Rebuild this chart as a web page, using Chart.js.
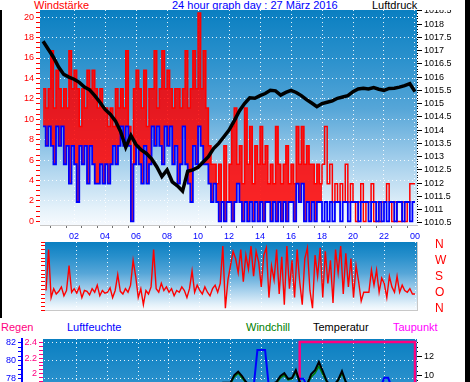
<!DOCTYPE html>
<html>
<head>
<meta charset="utf-8">
<script src="https://cdn.jsdelivr.net/npm/chart.js@4.4.0/dist/chart.umd.min.js"></script>
<style>
  html, body { margin: 0; padding: 0; background: #fff; width: 470px; height: 382px; overflow: hidden; position: relative; font-family: "Liberation Sans", Arial, sans-serif; }
  canvas { position: absolute; left: 0; }
  .head { position: absolute; left: 0; top: 0; width: 465px; height: 10px; overflow: hidden; background: #fff; z-index: 2; }
  .t { position: absolute; font-size: 11px; line-height: 11px; white-space: nowrap; }
  .edge { position: absolute; background: #000; z-index: 3; }
</style>
</head>
<body>
<div class="head">
  <span class="t" style="left:34px;top:0;color:#ff0000">Windstärke</span>
  <span class="t" style="left:172px;top:0;color:#0000ff">24 hour graph day : 27 März 2016</span>
  <span class="t" style="left:372px;top:0;color:#000">Luftdruck</span>
</div>
<span class="t" style="left:1px;top:322px;color:#ff0080">Regen</span>
<span class="t" style="left:67px;top:322px;color:#0000ff">Luftfeuchte</span>
<span class="t" style="left:246px;top:322px;color:#008000">Windchill</span>
<span class="t" style="left:313px;top:322px;color:#000">Temperatur</span>
<span class="t" style="left:393px;top:322px;color:#ff00ff">Taupunkt</span>
<div class="edge" style="left:465px;top:0;width:5px;height:382px"></div>
<div class="edge" style="left:0;top:10px;width:2px;height:308px"></div>

<canvas id="wind" width="465" height="242" style="top:0"></canvas>
<canvas id="dir" width="465" height="80" style="top:236px"></canvas>
<canvas id="temp" width="465" height="150" style="top:300px"></canvas>

<script>
// x labels under the top panel (every 2 hours, 24:00 shown as 00)
const hourLabels = ['02', '04', '06', '08', '10', '12', '14', '16', '18', '20', '22', '00'];
const compass = ['N', 'O', 'S', 'W', 'N'];

// wind in km/h, one value per 10 minutes from 00:00
const windGust = [
  13.0, 11.1, 13.0, 16.7, 11.1, 14.8,
  13.0, 11.1, 13.0, 11.1, 16.7, 13.0,
  14.8, 13.0, 9.3, 13.0, 11.1, 14.8,
  13.0, 14.8, 13.0, 11.1, 13.0, 11.1,
  11.1, 9.3, 11.1, 9.3, 13.0, 11.1,
  13.0, 11.1, 16.7, 9.3, 5.6, 13.0,
  14.8, 13.0, 11.1, 14.8, 9.3, 13.0,
  13.0, 16.7, 11.1, 13.0, 16.7, 13.0,
  14.8, 13.0, 11.1, 13.0, 13.0, 11.1,
  13.0, 16.7, 11.1, 13.0, 16.7, 13.0,
  20.4, 13.0, 16.7, 11.1, 7.4, 5.6,
  5.6, 3.7, 5.6, 1.9, 7.4, 1.9,
  5.6, 9.3, 11.1, 5.6, 7.4, 3.7,
  11.1, 5.6, 9.3, 3.7, 7.4, 5.6,
  9.3, 5.6, 7.4, 3.7, 5.6, 3.7,
  9.3, 5.6, 3.7, 5.6, 7.4, 3.7,
  5.6, 3.7, 9.3, 5.6, 9.3, 5.6,
  7.4, 5.6, 5.6, 3.7, 5.6, 3.7,
  5.6, 9.3, 3.7, 5.6, 1.9, 3.7,
  1.9, 3.7, 1.9, 5.6, 1.9, 3.7,
  1.9, 0, 1.9, 3.7, 0, 1.9,
  1.9, 3.7, 0, 1.9, 0, 1.9,
  1.9, 3.7, 1.9, 0, 1.9, 0,
  0, 1.9, 0, 1.9, 3.7, 3.7
];
const windMean = [
  9.3, 7.4, 9.3, 7.4, 5.6, 9.3,
  7.4, 9.3, 5.6, 7.4, 3.7, 7.4,
  5.6, 1.9, 7.4, 5.6, 7.4, 3.7,
  7.4, 5.6, 3.7, 3.7, 5.6, 3.7,
  5.6, 3.7, 5.6, 7.4, 5.6, 7.4,
  9.3, 7.4, 9.3, 7.4, 0, 5.6,
  7.4, 5.6, 3.7, 7.4, 3.7, 5.6,
  9.3, 7.4, 9.3, 7.4, 5.6, 9.3,
  7.4, 9.3, 5.6, 7.4, 3.7, 5.6,
  9.3, 5.6, 3.7, 1.9, 7.4, 5.6,
  9.3, 7.4, 5.6, 5.6, 3.7, 1.9,
  3.7, 1.9, 0, 1.9, 0, 1.9,
  1.9, 0, 1.9, 3.7, 1.9, 0,
  1.9, 0, 1.9, 0, 1.9, 0,
  1.9, 0, 1.9, 1.9, 0, 1.9,
  0, 1.9, 0, 1.9, 0, 1.9,
  1.9, 0, 3.7, 1.9, 3.7, 0,
  1.9, 0, 1.9, 0, 1.9, 1.9,
  0, 1.9, 0, 1.9, 0, 1.9,
  1.9, 0, 1.9, 1.9, 0, 1.9,
  1.9, 1.9, 0, 1.9, 1.9, 1.9,
  0, 1.9, 1.9, 0, 1.9, 0,
  1.9, 0, 1.9, 1.9, 0, 1.9,
  1.9, 0, 1.9, 1.9, 0, 1.9
];

// air pressure in hPa, every 20 minutes 00:00 .. 24:00
const pressure = [
  1017.35, 1017.05, 1016.75, 1016.38, 1016.1, 1016.0, 1015.92, 1015.8, 1015.62,
  1015.52, 1015.3, 1015.05, 1014.78, 1014.6, 1014.35, 1013.95, 1013.35, 1013.8,
  1013.45, 1013.25, 1013.12, 1012.92, 1012.62, 1012.25, 1012.5, 1012.05, 1011.9,
  1011.7, 1012.45, 1012.5, 1012.6, 1012.8, 1013.0, 1013.3, 1013.5, 1013.75,
  1014.0, 1014.35, 1014.72, 1015.0, 1015.22, 1015.2, 1015.3, 1015.38, 1015.5,
  1015.48, 1015.32, 1015.42, 1015.5, 1015.42, 1015.3, 1015.15, 1015.02, 1014.88,
  1015.0, 1015.05, 1015.1, 1015.2, 1015.25, 1015.3, 1015.45, 1015.55, 1015.58,
  1015.55, 1015.6, 1015.54, 1015.5, 1015.57, 1015.58, 1015.62, 1015.68, 1015.75,
  1015.45
];

// wind direction in degrees, one value per 10 minutes
const windDir = [
  100, 330, 60, 110, 80, 95,
  120, 70, 100, 240, 90, 110,
  85, 120, 60, 100, 95, 75,
  110, 90, 130, 70, 100, 85,
  90, 115, 60, 100, 190, 95,
  80, 110, 90, 130, 270, 180,
  60, 110, 20, 100, 80, 120,
  330, 110, 90, 140, 100, 120,
  90, 110, 70, 100, 90, 120,
  100, 60, 110, 210, 90, 130,
  100, 80, 120, 90, 70, 110,
  130, 90, 140, 350, 0, 160,
  240, 320, 280, 200, 330, 150,
  300, 220, 350, 180, 320, 260,
  120, 300, 340, 60, 240, 160,
  330, 80, 290, 20, 350, 110,
  270, 60, 330, 150, 20, 280,
  340, 100, 0, 300, 180, 340,
  60, 320, 140, 270, 30, 330,
  200, 350, 80, 310, 120, 280,
  60, 240, 150, 40, 90, 90,
  90, 215, 130, 215, 90, 170,
  140, 60, 180, 120, 90, 180,
  90, 130, 100, 90, 110, 80
];

// bottom panel, every 15 minutes 00:00 .. 24:00
const temperature = [
  6.2, 6.1, 6.0, 5.9, 5.8, 5.8, 5.7, 5.6, 5.5, 5.5, 5.4, 5.4,
  5.3, 5.3, 5.2, 5.2, 5.1, 5.1, 5.0, 5.0, 5.0, 5.1, 5.1, 5.2,
  5.4, 5.6, 5.8, 6.0, 6.3, 6.6, 6.9, 7.2, 7.5, 7.8, 8.0, 8.2,
  8.4, 8.6, 8.8, 8.9, 9.0, 9.1, 9.1, 9.2, 9.2, 9.2, 9.3, 9.3,
  9.3, 10.1, 10.45, 10.0, 9.4, 9.0, 8.9, 8.8, 8.9, 9.0, 9.1, 9.2,
  9.4, 10.0, 10.3, 9.7, 9.8, 10.6, 9.4, 9.0, 9.2, 10.2, 10.6, 11.45,
  10.5, 9.5, 9.0, 9.1, 9.6, 10.5, 9.4, 9.0, 8.8,
  8.6, 8.5, 8.4, 8.3, 8.2, 8.2, 8.1, 8.0, 8.0, 7.9, 7.9, 7.8,
  7.8, 7.7, 7.7, 7.6
];
const windchill = [
  4.6, 4.5, 4.3, 4.2, 4.1, 4.1, 4.0, 3.9, 3.8, 3.8, 3.7, 3.7,
  3.6, 3.6, 3.5, 3.5, 3.4, 3.4, 3.3, 3.3, 3.4, 3.5, 3.5, 3.6,
  3.9, 4.1, 4.4, 4.7, 5.0, 5.4, 5.8, 6.2, 6.6, 7.0, 7.3, 7.6,
  7.9, 8.2, 8.5, 8.7, 8.9, 9.0, 9.0, 9.1, 9.1, 9.2, 9.2, 9.3,
  9.2, 9.9, 10.3, 9.8, 9.3, 9.0, 8.9, 8.8, 8.9, 9.0, 9.1, 9.2,
  9.3, 9.8, 10.1, 9.6, 9.7, 10.4, 9.3, 9.0, 9.1, 9.9, 10.3, 11.0,
  10.2, 9.4, 9.0, 9.1, 9.5, 10.3, 9.3, 9.0, 8.8,
  8.6, 8.5, 8.4, 8.3, 8.2, 8.2, 8.1, 8.0, 8.0, 7.9, 7.9, 7.8,
  7.8, 7.7, 7.7, 7.6
];
const humidity = [
  74, 74, 74, 75, 75, 75, 75, 76, 76, 76, 76, 76,
  76, 76, 76, 76, 76, 76, 76, 76, 76, 76, 75, 75,
  75, 74, 74, 73, 72, 71, 70, 69, 68, 67, 66, 66,
  65, 65, 65, 64, 64, 64, 64, 64, 65, 66, 68, 70,
  72, 73, 73, 74, 75, 76, 77, 81.2, 81.2, 81.2, 77, 76,
  75, 74, 74, 75, 76, 77, 78.0, 78.0, 77, 76, 75, 74,
  75, 76, 76, 77, 77, 77, 77, 77, 77,
  77, 77, 77, 77, 77, 77, 77, 78.1, 78.1, 77, 77, 77,
  77, 77, 77, 77
];
const rain = [
  0, 0, 0, 0, 0, 0, 0, 0, 0, 0, 0, 0,
  0, 0, 0, 0, 0, 0, 0, 0, 0, 0, 0, 0,
  0, 0, 0, 0, 0, 0, 0, 0, 0, 0, 0, 0,
  0, 0, 0, 0, 0, 0, 0, 0, 0, 0, 0, 0,
  0, 0, 0, 0, 0, 0, 0, 0, 0, 0, 0, 0,
  0, 0, 0, 0, 0, 0, 2.41, 2.41, 2.41, 2.41, 2.41, 2.41,
  2.41, 2.41, 2.41, 2.41, 2.41, 2.41, 2.41, 2.41, 2.41,
  2.41, 2.41, 2.41, 2.41, 2.41, 2.41, 2.41, 2.41, 2.41, 2.41, 2.41, 2.41,
  2.41, 2.41, 2.41, 0
];

Chart.defaults.font.family = '"Liberation Sans", Arial, sans-serif';
Chart.defaults.font.size = 9;

const clear = 'rgba(0,0,0,0)';
const dots = 'rgba(255,255,255,0.9)';
const isMult = (v, m) => Math.abs(v / m - Math.round(v / m)) < 1e-6;

function pts(values, step, hold) {
  const out = values.map((v, i) => ({ x: i * step, y: v }));
  if (hold) out.push({ x: values.length * step, y: values[values.length - 1] });
  return out;
}

function backdrop(span) {
  return {
    id: 'backdrop',
    beforeDraw(chart) {
      const { ctx, chartArea: a } = chart;
      const g = ctx.createLinearGradient(0, a.top, 0, a.top + span);
      g.addColorStop(0, '#0a7fc1');
      g.addColorStop(0.22, '#2990cc');
      g.addColorStop(0.46, '#56a6d8');
      g.addColorStop(0.69, '#a0cdeb');
      g.addColorStop(0.92, '#e4f1fa');
      g.addColorStop(1, '#f6fafe');
      ctx.save();
      ctx.fillStyle = g;
      ctx.fillRect(a.left, a.top, a.right - a.left, a.bottom - a.top);
      ctx.restore();
    }
  };
}

function hourAxis(min, max, height, showLabels) {
  return {
    type: 'linear', position: 'bottom', min: min, max: max,
    afterFit: s => { s.height = height; s.paddingLeft = 0; s.paddingRight = 0; },
    ticks: {
      stepSize: 0.5, includeBounds: false, autoSkip: false, maxRotation: 0, minRotation: 0,
      display: showLabels, color: '#0000ff', padding: 3,
      callback: v => (v >= 2 && isMult(v, 2)) ? hourLabels[Math.round(v / 2) - 1] : ''
    },
    grid: {
      color: c => (c.tick && c.tick.value >= 2 && isMult(c.tick.value, 2)) ? dots : clear,
      tickColor: c => (c.tick && !isMult(c.tick.value, 1)) ? '#707070' : clear,
      drawTicks: showLabels, tickLength: 3, lineWidth: 1
    },
    border: { display: true, color: '#c8c8c8', width: 1, dash: [1, 3] }
  };
}

function sideAxis(o) {
  return {
    type: 'linear', position: o.pos, min: o.min, max: o.max, weight: o.weight || 0,
    afterFit: s => { s.width = o.width; s.paddingTop = 0; s.paddingBottom = 0; },
    ticks: {
      stepSize: o.step, includeBounds: false, autoSkip: false, color: o.color,
      padding: o.padding, font: { size: o.fontSize || 9 },
      callback: v => isMult(v, o.major) ? o.fmt(v) : ''
    },
    grid: {
      drawOnChartArea: !!o.grid,
      color: c => (c.tick && isMult(c.tick.value, o.major)) ? dots : clear,
      drawTicks: o.tickLength > 0, tickLength: o.tickLength, tickColor: o.color,
      tickBorderDash: c => (o.dotMinor && c.tick && !isMult(c.tick.value, o.major)) ? [1, 10] : []
    },
    border: { display: !!o.border, color: o.border || clear, width: o.borderWidth || 1, dash: [1, 3] }
  };
}

const common = {
  responsive: false, animation: false, events: [],
  plugins: { legend: { display: false }, tooltip: { enabled: false } },
  elements: { point: { radius: 0 }, line: { tension: 0 } }
};

// top panel: gusts (red, filled down to the mean), mean wind (blue), pressure (black)
new Chart(document.getElementById('wind'), {
  type: 'line',
  data: {
    datasets: [
      { data: pts(pressure, 1 / 3), yAxisID: 'yP', borderColor: '#000', borderWidth: 3.5 },
      { data: pts(windMean, 1 / 6, true), yAxisID: 'yW', borderColor: '#0000ff', borderWidth: 1.8, stepped: true },
      { data: pts(windGust, 1 / 6, true), yAxisID: 'yW', borderColor: '#ff0000', borderWidth: 1.5, stepped: true,
        fill: 1, backgroundColor: '#ff0000',
        segment: { backgroundColor: c => c.p0DataIndex < 108 ? 'rgba(255,0,0,0.85)' : clear } }
    ]
  },
  options: Object.assign({}, common, {
    layout: { padding: { top: 10, left: 0, right: 0, bottom: 0 } },
    scales: {
      x: hourAxis(-0.2, 24.13, 17, true),
      yW: sideAxis({ pos: 'left', min: -0.35, max: 20.7, step: 0.5, major: 2, width: 40, color: '#ff0000',
        padding: 2, tickLength: 4, grid: true, fmt: v => String(Math.round(v)) }),
      yP: sideAxis({ pos: 'right', min: 1010.42, max: 1018.53, step: 0.1, major: 0.5, width: 48, color: '#000',
        padding: 2, tickLength: 5, dotMinor: true, fmt: v => isMult(v, 1) ? String(Math.round(v)) : v.toFixed(1) })
    }
  }),
  plugins: [backdrop(215)]
});

// middle panel: wind direction
new Chart(document.getElementById('dir'), {
  type: 'line',
  data: {
    datasets: [
      { data: pts(windDir, 1 / 6, true), yAxisID: 'yD', borderColor: '#ff0000', borderWidth: 1.4 }
    ]
  },
  options: Object.assign({}, common, {
    layout: { padding: { top: 6, left: 0, right: 0, bottom: 0 } },
    scales: {
      x: hourAxis(-0.065, 24.13, 6, false),
      yD: sideAxis({ pos: 'left', min: -10, max: 373, step: 22.5, major: 90, width: 45, color: '#ff0000',
        padding: 3, tickLength: 4, grid: true, fmt: v => String(Math.round(v)) }),
      yC: sideAxis({ pos: 'right', min: -10, max: 373, step: 90, major: 90, width: 48, color: '#ff0000',
        padding: 18, tickLength: 0, fontSize: 12, border: '#c8c8c8', fmt: v => compass[Math.round(v / 90)] })
    }
  }),
  plugins: [backdrop(68)]
});

// bottom panel: rain, humidity, windchill, temperature
new Chart(document.getElementById('temp'), {
  type: 'line',
  data: {
    datasets: [
      { data: pts(temperature, 0.25), yAxisID: 'yT', borderColor: '#000', borderWidth: 2 },
      { data: pts(windchill, 0.25), yAxisID: 'yT', borderColor: '#008000', borderWidth: 1.5 },
      { data: pts(humidity, 0.25), yAxisID: 'yH', borderColor: '#0000ff', borderWidth: 2 },
      { data: pts(rain, 0.25), yAxisID: 'yR', borderColor: '#ff0080', borderWidth: 2.5, stepped: true }
    ]
  },
  options: Object.assign({}, common, {
    layout: { padding: { top: 39, left: 0, right: 0, bottom: 0 } },
    scales: {
      x: hourAxis(-0.195, 24.13, 8, false),
      yR: sideAxis({ pos: 'left', weight: 1, min: 1.119, max: 2.448, step: 0.05, major: 0.2, width: 21, color: '#ff0080',
        padding: 2, tickLength: 4, fmt: v => String(+v.toFixed(1)) }),
      yH: sideAxis({ pos: 'left', weight: 2, min: 70.97, max: 82.41, step: 0.5, major: 2, width: 22, color: '#0000ff',
        padding: 2, tickLength: 4, grid: true, border: '#0000ff', borderWidth: 2, fmt: v => String(Math.round(v)) }),
      yT: sideAxis({ pos: 'right', min: 3.16, max: 13.834, step: 0.5, major: 2, width: 48, color: '#000',
        padding: 2, tickLength: 5, dotMinor: true, fmt: v => String(Math.round(v)) })
    }
  }),
  plugins: [backdrop(190)]
});
</script>
</body>
</html>
